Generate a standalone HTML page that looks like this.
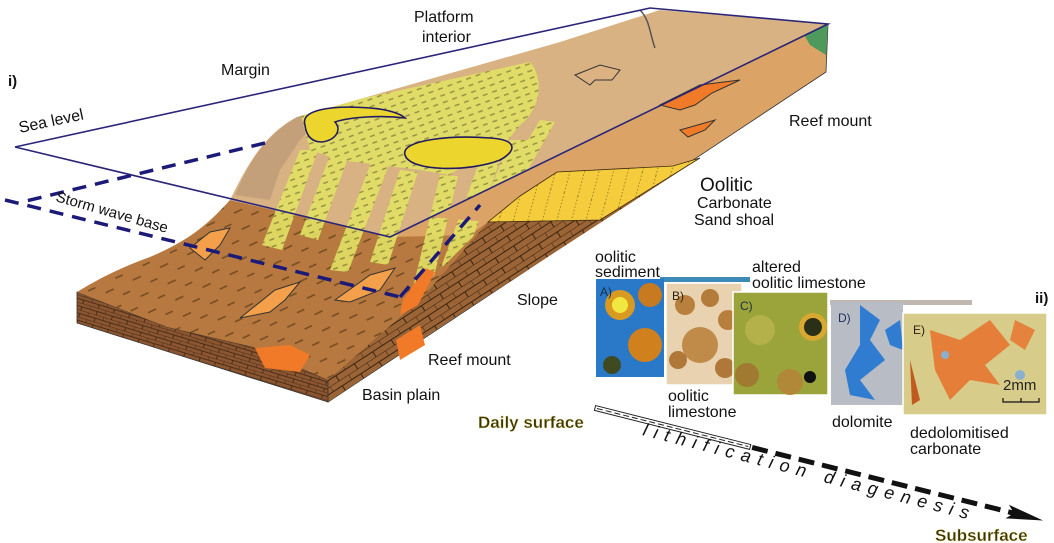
<!DOCTYPE html>
<html><head><meta charset="utf-8"><style>
html,body{margin:0;padding:0;background:#fff;}
svg{display:block;font-family:"Liberation Sans",sans-serif;}
</style></head><body>
<svg width="1054" height="543" viewBox="0 0 1054 543" xmlns="http://www.w3.org/2000/svg">
<defs>
<pattern id="brick" width="22" height="12" patternUnits="userSpaceOnUse" patternTransform="rotate(-33)">
<rect width="22" height="12" fill="#9a6436"/>
<path d="M0 0H22M0 6H22M0 0V6M11 6V12" stroke="#3a2410" stroke-width="1" fill="none"/>
</pattern>
<pattern id="fbrick" width="16" height="7" patternUnits="userSpaceOnUse" patternTransform="rotate(17)">
<rect width="16" height="7" fill="#8a5530"/>
<path d="M0 0H16M0 3.5H16M0 0V3.5M8 3.5V7" stroke="#3a2410" stroke-width="0.8" fill="none"/>
</pattern>
<pattern id="streak" width="30" height="18" patternUnits="userSpaceOnUse" patternTransform="rotate(-25)">
<path d="M2 4H11M17 13H25" stroke="#5a3a18" stroke-width="1.5"/>
</pattern>
<pattern id="green" width="10" height="7" patternUnits="userSpaceOnUse" patternTransform="rotate(-20)">
<rect width="10" height="7" fill="#e2e064"/>
<path d="M1 3H6" stroke="#8a8a3a" stroke-width="1.4"/>
</pattern>
<pattern id="shoal" width="14" height="40" patternUnits="userSpaceOnUse" patternTransform="rotate(15)">
<rect width="14" height="40" fill="#f4cc3c"/>
<path d="M7 0V40" stroke="#6a5020" stroke-width="0.6" stroke-dasharray="1.5 2"/>
</pattern>
<clipPath id="cs"><path d="M77,292 C100,278 120,268 150,257 C185,242 205,228 230,200 L392,237 L470,235 L488,222 L420,300 L328,380 L253,347 L167,327 Z"/></clipPath>
<clipPath id="ct"><path d="M230,200 C245,170 262,135 297,117 L560,42 L660,10 L828,24 L392,237 Z M77,292 L230,200 L488,222 L328,380 Z"/></clipPath>
</defs>

<!-- right side face -->
<polygon points="390,237 828,24 826,72 328,402 325,378" fill="#dba466" stroke="#333" stroke-width="0.8"/>
<polygon points="488,222 700,158 440,327 328,402 325,378 420,300" fill="url(#brick)"/>
<polygon points="488,222 520,196 557,172 673,166 700,158 600,220" fill="url(#shoal)" stroke="#3a2a10" stroke-width="0.8"/>
<polygon points="800,28 828,24 826,55 810,45" fill="#4e9a5c"/>
<!-- front face -->
<polygon points="77,292 167,327 253,347 328,380 328,402 77,323" fill="url(#fbrick)" stroke="#333" stroke-width="0.8"/>
<!-- slope surface -->
<path d="M77,292 C100,278 120,268 150,257 C185,242 205,228 230,200 L392,237 L470,235 L488,222 L420,300 L328,380 L253,347 L167,327 Z" fill="#b7793f"/>
<rect x="77" y="190" width="420" height="190" fill="url(#streak)" clip-path="url(#cs)" opacity="0.75"/>
<!-- top surface -->
<path d="M230,200 C245,170 262,135 297,117 L560,42 L660,10 L828,24 L392,237 Z" fill="#d8b283"/>
<path d="M235,195 C248,165 262,138 297,117 L330,108 L300,140 L280,170 L270,200 Z" fill="#c4a07a"/>
<!-- green/yellow streaks (lobes) -->
<g clip-path="url(#ct)" fill="url(#green)" opacity="0.9">
<path d="M300,112 L530,62 C545,80 540,110 520,125 L500,150 L470,160 L450,175 L420,170 L380,165 L340,160 L310,150 Z"/>
<path d="M262,245 L300,150 L318,150 L282,250 Z"/>
<path d="M300,235 L330,155 L348,158 L318,240 Z"/>
<path d="M330,270 L372,160 L390,162 L348,272 Z"/>
<path d="M370,262 L400,170 L418,172 L388,265 Z"/>
<path d="M410,300 L440,175 L458,176 L428,302 Z"/>
<path d="M440,270 L480,160 L500,160 L460,275 Z"/>
<path d="M480,215 L510,140 L530,140 L500,220 Z"/>
<path d="M510,170 L540,120 L555,122 L525,175 Z"/>
</g>
<path d="M305,125 C300,110 330,105 370,108 C385,109 400,113 405,118 C380,115 350,117 335,122 C342,130 336,140 322,142 C310,142 306,134 305,125 Z" fill="#ecd62e" stroke="#221a60" stroke-width="1.6"/>
<path d="M405,155 C400,140 450,135 490,138 C520,140 515,152 500,160 C470,172 410,172 405,155 Z" fill="#ecd62e" stroke="#221a60" stroke-width="1.6"/>
<!-- reefs -->
<path d="M575,75 L600,65 L620,70 L612,80 L595,80 L590,85 Z" fill="#dcb283" stroke="#333" stroke-width="1"/>
<path d="M660,105 L700,85 L740,80 L712,93 L695,105 L680,110 Z" fill="#f07a28" stroke="#333" stroke-width="1"/>
<path d="M680,130 L715,120 L705,130 L688,137 Z" fill="#f07a28" stroke="#333" stroke-width="1"/>
<path d="M190,248 L210,232 L230,228 L220,245 L205,260 Z" fill="#f4a04a" stroke="#333" stroke-width="1"/>
<path d="M240,318 L275,290 L300,282 L285,300 L270,312 Z" fill="#f4a04a" stroke="#333" stroke-width="1"/>
<path d="M335,300 L370,275 L395,268 L380,290 L350,302 Z" fill="#f4a04a" stroke="#333" stroke-width="1"/>
<path d="M403,300 L425,268 L435,272 L418,305 L400,315 Z" fill="#f07a28"/>
<path d="M255,348 L290,345 L310,355 L300,372 L265,368 Z" fill="#f07a28"/>
<path d="M396,340 L420,325 L425,345 L400,360 Z" fill="#f07a28"/>
<path d="M640,10 C650,20 650,35 655,48" stroke="#555" stroke-width="1.5" fill="none"/>

<!-- sea level plane -->
<polyline points="15,147 650,8 828,24 390,237 15,147" fill="none" stroke="#2a2578" stroke-width="1.6"/>
<!-- dashed lines -->
<g stroke="#1c1a78" stroke-width="3.5" stroke-dasharray="14 9" fill="none">
<line x1="265" y1="143" x2="22" y2="202"/>
<line x1="5" y1="200" x2="400" y2="297"/>
<line x1="400" y1="297" x2="480" y2="205"/>
</g>

<!-- micrographs -->
<rect x="660" y="277" width="90" height="5" fill="#3b8ab8"/>
<rect x="830" y="300" width="142" height="5" fill="#c0b8b0"/>
<g>
<rect x="596" y="279" width="68" height="98" fill="#2a78c8"/>
<circle cx="620" cy="305" r="15" fill="#d89a20"/><circle cx="620" cy="305" r="8" fill="#f0e840"/>
<circle cx="645" cy="345" r="17" fill="#d0801c"/><circle cx="650" cy="295" r="12" fill="#c87a20"/>
<circle cx="612" cy="365" r="9" fill="#404a20"/>
<text x="600" y="296" font-size="12" fill="#203040">A)</text>
</g>
<g>
<rect x="666" y="283" width="76" height="102" fill="#e8d2b0" stroke="#fff" stroke-width="1.5"/>
<circle cx="685" cy="305" r="10" fill="#b8803c"/><circle cx="710" cy="298" r="9" fill="#b47c3a"/>
<circle cx="700" cy="345" r="18" fill="#c08a48"/><circle cx="678" cy="360" r="9" fill="#b07838"/>
<circle cx="728" cy="320" r="10" fill="#b87e3e"/><circle cx="725" cy="368" r="10" fill="#b07838"/>
<text x="672" y="300" font-size="12" fill="#302010">B)</text>
</g>
<g>
<rect x="733" y="292" width="95" height="103" fill="#9aa43a" stroke="#fff" stroke-width="1.5"/>
<circle cx="813" cy="327" r="14" fill="#d8a830"/><circle cx="813" cy="327" r="9" fill="#2a3018"/>
<circle cx="760" cy="330" r="15" fill="#b4b04a"/><circle cx="747" cy="375" r="12" fill="#a07a30"/>
<circle cx="790" cy="382" r="13" fill="#b08838"/><circle cx="810" cy="377" r="6" fill="#111"/>
<text x="740" y="310" font-size="12" fill="#203040">C)</text>
</g>
<g>
<rect x="831" y="302" width="72" height="103" fill="#b8bcc4"/>
<path d="M860,305 L880,320 L870,340 L885,360 L860,380 L875,400 L850,395 L845,370 L860,345 Z" fill="#2f7cd0"/>
<path d="M885,330 L900,320 L903,350 L890,345 Z" fill="#2f7cd0"/>
<text x="838" y="322" font-size="12" fill="#203060">D)</text>
</g>
<g>
<rect x="903" y="313" width="144" height="102" fill="#d8cc8a" stroke="#fff" stroke-width="1.5"/>
<path d="M930,330 L960,340 L990,320 L1010,345 L985,365 L1000,385 L970,380 L950,400 L935,370 Z" fill="#e8702a" opacity="0.85"/>
<path d="M1015,320 L1035,330 L1025,350 L1010,340 Z" fill="#e8702a" opacity="0.8"/>
<path d="M910,360 L920,400 L912,405 Z" fill="#c05a20"/>
<circle cx="1020" cy="375" r="5" fill="#8ab0d0"/><circle cx="945" cy="355" r="4" fill="#8ab0d0"/>
<text x="913" y="334" font-size="12" fill="#302010">E)</text>
<text x="1003" y="390" font-size="15" fill="#222">2mm</text>
<path d="M1003,398 V402 H1039 V398 M1021,402 V398" stroke="#111" stroke-width="1.2" fill="none"/>
</g>

<!-- arrow -->
<g transform="translate(595,408) rotate(14.1)">
<rect x="0" y="-2.5" width="160" height="5" fill="#fff" stroke="#222" stroke-width="1"/>
<line x1="2" y1="0" x2="158" y2="0" stroke="#222" stroke-width="1" stroke-dasharray="6 3"/>
<line x1="162" y1="0" x2="440" y2="0" stroke="#111" stroke-width="5" stroke-dasharray="16 8"/>
<path d="M425,-7 L462,0 L425,7 L432,0 Z" fill="#111"/>
</g>
<text transform="translate(642,435) rotate(14.5)" font-size="18" font-style="italic" letter-spacing="7" fill="#111">lithification  diagenesis</text>

<!-- labels -->
<g font-size="16" fill="#111">
<text x="414" y="22">Platform</text>
<text x="422" y="42">interior</text>
<text x="221" y="75">Margin</text>
<text x="8" y="86" font-weight="bold" font-size="15">i)</text>
<text transform="translate(20,133) rotate(-12)">Sea level</text>
<text transform="translate(55,201) rotate(16)" font-size="15">Storm wave base</text>
<text x="789" y="126">Reef mount</text>
<text x="700" y="191" font-size="19">Oolitic</text>
<text x="697" y="208">Carbonate</text>
<text x="694" y="225">Sand shoal</text>
<text x="517" y="305">Slope</text>
<text x="428" y="365">Reef mount</text>
<text x="362" y="400">Basin plain</text>
<text x="595" y="262">oolitic</text>
<text x="595" y="277">sediment</text>
<text x="752" y="272">altered</text>
<text x="752" y="288">oolitic limestone</text>
<text x="668" y="401">oolitic</text>
<text x="668" y="417">limestone</text>
<text x="832" y="427">dolomite</text>
<text x="910" y="438">dedolomitised</text>
<text x="910" y="454">carbonate</text>
<text x="1035" y="303" font-weight="bold" font-size="15">ii)</text>
</g>
<text x="478" y="428" font-size="17" font-weight="bold" fill="#3e3400" stroke="#e8e0a0" stroke-width="0.4">Daily surface</text>
<text x="935" y="541" font-size="17" font-weight="bold" fill="#3e3400" stroke="#e8e0a0" stroke-width="0.4">Subsurface</text>
</svg>
</body></html>
